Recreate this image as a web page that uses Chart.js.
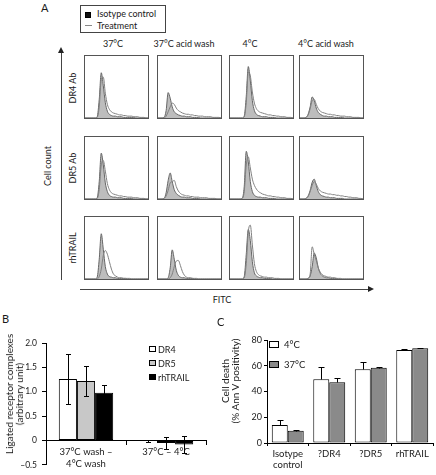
<!DOCTYPE html>
<html>
<head>
<meta charset="utf-8">
<script src="https://cdn.jsdelivr.net/npm/chart.js@4.4.1/dist/chart.umd.min.js"></script>
<style>
  body { margin: 0; background: #fff; }
  #fig { position: relative; width: 436px; height: 475px; overflow: hidden; font-family: Lato, "Open Sans", sans-serif; color: #1a1a1a; }
  .txt { position: absolute; white-space: nowrap; line-height: 1; font-size: 9px; }
  .rot { transform: translate(-50%, -50%) rotate(-90deg); text-align: center; }
  .ctr { transform: translateX(-50%); }
  .panel { position: absolute; width: 65px; height: 64px; border: 1px solid #555; box-sizing: border-box; }
  .panel canvas { display: block; }
  .cv { position: absolute; }
  .box { position: absolute; border: 1px solid #000; box-sizing: border-box; }
  .line { position: absolute; background: #444; }
</style>
</head>
<body>
<div id="fig">
  <!-- panel A -->
  <div class="txt" style="left:41px;top:2px;font-size:11px;">A</div>
  <div class="box" style="left:80px;top:5px;width:86px;height:28px;border-color:#444;"></div>
  <div class="box" style="left:85px;top:12px;width:6px;height:6px;background:#111;"></div>
  <div class="line" style="left:85px;top:25px;width:7px;height:1px;background:#888;"></div>
  <div class="txt" style="left:97px;top:9px;">Isotype control</div>
  <div class="txt" style="left:97px;top:21px;">Treatment</div>

  <div class="txt ctr" style="left:113px;top:39px;">37°C</div>
  <div class="txt ctr" style="left:184px;top:39px;">37°C acid wash</div>
  <div class="txt ctr" style="left:250px;top:39px;">4°C</div>
  <div class="txt ctr" style="left:326px;top:39px;">4°C acid wash</div>

  <div class="txt rot" style="left:72px;top:88px;">DR4 Ab</div>
  <div class="txt rot" style="left:72px;top:168px;">DR5 Ab</div>
  <div class="txt rot" style="left:72px;top:248px;">rhTRAIL</div>
  <div class="txt rot" style="left:47px;top:166px;">Cell count</div>

  <div class="line" style="left:61px;top:51px;width:1px;height:229px;"></div>
  <div style="position:absolute;left:58px;top:47px;width:0;height:0;border-left:3.5px solid transparent;border-right:3.5px solid transparent;border-bottom:6px solid #222;"></div>
  <div class="line" style="left:80px;top:289px;width:289px;height:1px;"></div>
  <div style="position:absolute;left:368px;top:286px;width:0;height:0;border-top:3.5px solid transparent;border-bottom:3.5px solid transparent;border-left:6px solid #222;"></div>
  <div class="txt ctr" style="left:222px;top:295px;">FITC</div>

  <!-- panel B -->
  <div class="txt" style="left:2px;top:313px;font-size:11px;">B</div>
  <canvas id="chartB" class="cv" width="212" height="145" style="left:0;top:330px;"></canvas>
  <div class="txt rot" style="left:14px;top:394px;font-size:10px;line-height:10px;">Ligated receptor complexes<br>(arbitrary unit)</div>
  <div class="box" style="left:149px;top:346px;width:7px;height:6px;background:#fff;"></div>
  <div class="box" style="left:149px;top:360px;width:7px;height:6px;background:#c8c8c8;"></div>
  <div class="box" style="left:149px;top:374px;width:7px;height:6px;background:#000;"></div>
  <div class="txt" style="left:158px;top:345px;">DR4</div>
  <div class="txt" style="left:158px;top:359px;">DR5</div>
  <div class="txt" style="left:158px;top:373px;">rhTRAIL</div>

  <!-- panel C -->
  <div class="txt" style="left:217px;top:316px;font-size:11px;">C</div>
  <canvas id="chartC" class="cv" width="204" height="145" style="left:232px;top:330px;"></canvas>
  <div class="txt rot" style="left:230px;top:381px;font-size:10px;line-height:10px;">Cell death<br>(% Ann V positivity)</div>
  <div class="box" style="left:269px;top:341px;width:10px;height:7px;background:#fff;"></div>
  <div class="box" style="left:269px;top:361px;width:10px;height:7px;background:#8a8a8a;"></div>
  <div class="txt" style="left:284px;top:340px;font-size:9.5px;">4°C</div>
  <div class="txt" style="left:284px;top:360px;font-size:9.5px;">37°C</div>
</div>

<script>
// --- data ---------------------------------------------------------------
// flow histograms (32 bins, % of panel height); columns: 37°C, 37°C acid wash, 4°C, 4°C acid wash
const isoDR4 = [
  [0,0,0,0,0,0,2,30,73,52,25,11,6,4,3,3,2,2,2,1,1,1,1,1,1,0,0,0,0,0,0,0],
  [0,0,0,1,12,41,32,18,10,7,5,4,3,3,2,2,2,1,1,1,1,0,0,0,0,0,0,0,0,0,0,0],
  [0,0,0,0,0,0,0,3,35,83,60,28,12,6,4,3,2,2,2,1,1,1,1,0,0,0,0,0,0,0,0,0],
  [0,0,0,1,6,18,34,28,16,9,6,4,3,3,2,2,2,1,1,1,1,1,0,0,0,0,0,0,0,0,0,0]
];
const trtDR4 = [
  [0,0,0,0,0,0,1,18,62,66,40,22,14,10,8,7,6,5,5,4,4,3,3,3,2,2,2,1,1,1,0,0],
  [0,0,0,0,3,10,18,24,22,16,12,10,8,7,6,6,5,5,4,4,3,3,3,2,2,2,2,1,1,1,1,0],
  [0,0,0,0,0,0,0,2,25,74,68,42,24,15,11,9,8,7,6,5,5,4,4,3,3,2,2,2,1,1,1,0],
  [0,0,0,1,5,15,28,30,22,15,11,9,8,7,6,6,5,5,4,4,3,3,3,2,2,2,1,1,1,1,0,0]
];
const isoDR5 = [
  [0,0,0,0,0,0,2,28,74,55,26,12,6,4,3,3,2,2,2,1,1,1,1,1,0,0,0,0,0,0,0,0],
  [0,0,0,1,10,30,42,28,15,9,6,4,3,3,2,2,2,1,1,1,1,0,0,0,0,0,0,0,0,0,0,0],
  [0,0,0,0,0,0,1,20,77,60,28,12,6,4,3,3,2,2,2,1,1,1,1,0,0,0,0,0,0,0,0,0],
  [0,0,0,1,5,14,27,32,22,12,7,5,4,3,3,2,2,2,1,1,1,1,0,0,0,0,0,0,0,0,0,0]
];
const trtDR5 = [
  [0,0,0,0,0,0,1,15,55,62,45,25,15,10,8,7,6,5,5,4,4,3,3,3,2,2,2,1,1,1,0,0],
  [0,0,0,1,5,14,26,28,30,20,13,9,7,6,5,5,4,4,3,3,3,2,2,2,2,1,1,1,1,0,0,0],
  [0,0,0,0,0,0,1,12,55,68,50,32,22,16,12,10,8,7,6,5,5,4,4,3,3,2,2,2,1,1,1,0],
  [0,0,0,1,4,12,22,28,24,17,13,11,10,9,8,8,7,7,6,6,5,5,4,4,3,3,2,2,2,1,1,0]
];
const isoTRAIL = [
  [0,0,0,0,0,0,3,32,73,48,20,8,4,3,2,2,1,1,1,1,1,0,0,0,0,0,0,0,0,0,0,0],
  [0,0,0,0,0,2,18,47,32,14,6,3,2,2,1,1,1,1,0,0,0,0,0,0,0,0,0,0,0,0,0,0],
  [0,0,0,0,0,0,0,4,40,80,62,28,10,5,3,2,2,1,1,1,1,0,0,0,0,0,0,0,0,0,0,0],
  [0,0,0,0,1,5,20,42,34,18,9,5,3,2,2,1,1,1,1,0,0,0,0,0,0,0,0,0,0,0,0,0]
];
const trtTRAIL = [
  [0,0,0,0,0,0,0,4,16,38,46,40,28,16,8,5,3,2,2,1,1,1,1,0,0,0,0,0,0,0,0,0],
  [0,0,0,0,0,0,2,8,20,29,30,22,12,6,3,2,2,1,1,1,0,0,0,0,0,0,0,0,0,0,0,0],
  [0,0,0,0,0,0,0,2,25,76,87,55,25,12,7,5,4,3,3,2,2,2,1,1,1,0,0,0,0,0,0,0],
  [0,0,0,0,1,8,52,40,30,18,11,7,5,4,3,3,2,2,1,1,1,0,0,0,0,0,0,0,0,0,0,0]
];

// panel B: ligated receptor complexes
const groupsB = [['37°C wash –', '4°C wash'], '37°C – 4°C'];
const dr4Means = [1.26, -0.01];
const dr4Err = [0.51, 0.02];
const dr5Means = [1.22, -0.05];
const dr5Err = [0.30, 0.12];
const trailMeans = [0.98, -0.08];
const trailErr = [0.15, 0.17];

// panel C: cell death
const groupsC = [['Isotype', 'control'], '?DR4', '?DR5', 'rhTRAIL'];
const cold = [14.0, 49.5, 57.2, 72.2];
const coldErr = [3.9, 9.3, 5.9, 0.6];
const warm = [9.6, 47.1, 58.5, 73.5];
const warmErr = [0.7, 3.1, 0.8, 0.5];

// --- setup --------------------------------------------------------------
Chart.defaults.font.family = 'Lato, "Open Sans", sans-serif';
Chart.defaults.color = '#1a1a1a';

const bins = Array.from({ length: 32 }, (_, i) => i);
const colX = [84, 157, 229, 299];
const rowY = [55, 136, 216];
const rowIso = [isoDR4, isoDR5, isoTRAIL];
const rowTrt = [trtDR4, trtDR5, trtTRAIL];

// error bars drawn from the bar's own value on the y scale
const errorBars = {
  id: 'errorBars',
  afterDatasetsDraw(chart, args, opts) {
    const { ctx } = chart;
    const y = chart.scales.y;
    ctx.save();
    ctx.strokeStyle = '#000';
    ctx.lineWidth = 1;
    chart.data.datasets.forEach((ds, i) => {
      if (!ds.errors) return;
      chart.getDatasetMeta(i).data.forEach((bar, j) => {
        const v = ds.data[j], e = ds.errors[j];
        const x = Math.round(bar.x) + 0.5;
        const hi = Math.round(y.getPixelForValue(v + e)) + 0.5;
        const lo = Math.round(y.getPixelForValue(opts.upOnly ? v : v - e)) + 0.5;
        const c = opts.cap || 3;
        ctx.beginPath();
        ctx.moveTo(x, lo); ctx.lineTo(x, hi);
        ctx.moveTo(x - c, hi); ctx.lineTo(x + c, hi);
        if (!opts.upOnly) { ctx.moveTo(x - c, lo); ctx.lineTo(x + c, lo); }
        ctx.stroke();
      });
    });
    ctx.restore();
  }
};

function drawHist(canvas, iso, trt) {
  new Chart(canvas, {
    type: 'line',
    data: {
      labels: bins,
      datasets: [
        { data: trt, borderColor: '#808080', borderWidth: 1, fill: false, pointRadius: 0, cubicInterpolationMode: 'monotone' },
        { data: iso, borderColor: '#666', borderWidth: 1, backgroundColor: '#bdbdbd', fill: 'origin', pointRadius: 0, cubicInterpolationMode: 'monotone' }
      ]
    },
    options: {
      responsive: false, animation: false, events: [],
      layout: { padding: 0 },
      plugins: { legend: { display: false }, tooltip: { enabled: false } },
      scales: { x: { display: false }, y: { display: false, min: 0, max: 100 } }
    }
  });
}

const fig = document.getElementById('fig');
rowY.forEach((top, r) => {
  colX.forEach((left, c) => {
    const div = document.createElement('div');
    div.className = 'panel';
    div.style.left = left + 'px';
    div.style.top = top + 'px';
    const cv = document.createElement('canvas');
    cv.width = 63; cv.height = 62;
    div.appendChild(cv);
    fig.appendChild(div);
    drawHist(cv, rowIso[r][c], rowTrt[r][c]);
  });
});

// --- panel B ------------------------------------------------------------
new Chart(document.getElementById('chartB'), {
  type: 'bar',
  data: {
    labels: groupsB,
    datasets: [
      { label: 'DR4', data: dr4Means, errors: dr4Err, backgroundColor: '#fff' },
      { label: 'DR5', data: dr5Means, errors: dr5Err, backgroundColor: '#c8c8c8' },
      { label: 'rhTRAIL', data: trailMeans, errors: trailErr, backgroundColor: '#000' }
    ]
  },
  options: {
    responsive: false, animation: false, events: [],
    layout: { padding: { top: 13, right: 6, bottom: 7, left: 0 } },
    datasets: { bar: { categoryPercentage: 0.68, barPercentage: 1, borderColor: '#000', borderWidth: 1, borderSkipped: false } },
    plugins: { legend: { display: false }, tooltip: { enabled: false }, errorBars: { cap: 2.5 } },
    scales: {
      x: {
        position: { y: 0 },
        grid: { drawOnChartArea: false, tickLength: 4, color: '#000' },
        border: { color: '#000' },
        ticks: { font: { size: 9.5 }, padding: 2, maxRotation: 0, autoSkip: false }
      },
      y: {
        min: -0.5, max: 2,
        afterFit: s => { s.width = 46; },
        grid: { drawOnChartArea: false, tickLength: 4, color: '#000' },
        border: { color: '#000' },
        ticks: {
          stepSize: 0.5, font: { size: 8.5 }, padding: 5,
          callback: v => v === 0 ? '0' : (v < 0 ? '–' : '') + Math.abs(v).toFixed(1)
        }
      }
    }
  },
  plugins: [errorBars]
});

// --- panel C ------------------------------------------------------------
new Chart(document.getElementById('chartC'), {
  type: 'bar',
  data: {
    labels: groupsC,
    datasets: [
      { label: '4°C', data: cold, errors: coldErr, backgroundColor: '#fff' },
      { label: '37°C', data: warm, errors: warmErr, backgroundColor: '#8a8a8a' }
    ]
  },
  options: {
    responsive: false, animation: false, events: [],
    layout: { padding: { top: 10, right: 3, bottom: 0, left: 0 } },
    datasets: { bar: { categoryPercentage: 0.77, barPercentage: 1, borderColor: '#000', borderWidth: 1, borderSkipped: false } },
    plugins: { legend: { display: false }, tooltip: { enabled: false }, errorBars: { cap: 3, upOnly: true } },
    scales: {
      x: {
        afterFit: s => { s.height = 32; },
        grid: { drawOnChartArea: false, tickLength: 3, color: '#000' },
        border: { color: '#000' },
        ticks: { font: { size: 9.5 }, padding: 2, maxRotation: 0, autoSkip: false }
      },
      y: {
        min: 0, max: 80,
        afterFit: s => { s.width = 35; },
        grid: { drawOnChartArea: false, tickLength: 3, color: '#000' },
        border: { color: '#000' },
        ticks: { stepSize: 10, font: { size: 9 }, padding: 2 }
      }
    }
  },
  plugins: [errorBars]
});
</script>
</body>
</html>
